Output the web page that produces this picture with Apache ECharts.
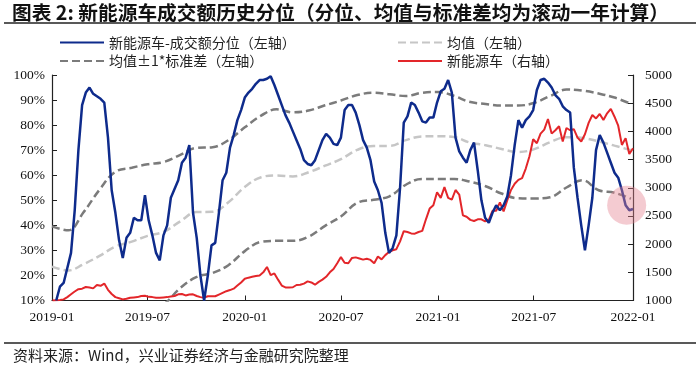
<!DOCTYPE html>
<html><head><meta charset="utf-8">
<script src="https://cdn.jsdelivr.net/npm/echarts@6/dist/echarts.min.js"></script>
<style>html,body{margin:0;padding:0;background:#fff}#c{width:700px;height:370px}</style>
</head><body><div id="c"></div>
<script>
const titleText = '图表 2: 新能源车成交额历史分位（分位、均值与标准差均为滚动一年计算）';
const sourceText = '资料来源：Wind，兴业证券经济与金融研究院整理';
const seriesNames = ['新能源车-成交额分位（左轴）', '均值（左轴）', '均值±1*标准差（左轴）', '新能源车（右轴）'];

// weekly observations starting 2019-01-02
const weeklyStart = [2019, 0, 2];
const blueVals = [null,10,15.5,17,23,29,46,70,88,93,
95,92.5,91.5,90.5,89,75,54,45,34,27,
35,37,43,42,42,52,42,36,29,26,
36,40,51,54.5,58,65,67,72,45,35,
20,10,20,32,33,45,58,61,71,76,
82,86,91,93,94.5,96.5,98,98,98.5,99.5,
96,92,88,84,81,77.5,74,70.5,66,64.5,
64,66,70,74,76.5,75,72.5,72,75,86,
88,88,85,80,74,71,66,57.5,54,49,
37,29,31,36,55,81,83.5,89,88,85,
81.5,81,83,83,89,93.5,94.5,98,93,75,
69.5,67,65,70,73,62,50,43,41,45,
48,46,48,51.5,60,72,82,79,82,83.5,
86,94,98,98.5,97,95,92,90.5,87.5,86,
85,63,51,40,30,40,51,70,76,73,
69,65,61,59,54,48,46,46.5];
const redVals = [1000,1005,1010,1020,1060,1110,1160,1200,1210,1240,
1230,1215,1275,1260,1300,1190,1115,1060,1040,1020,
1030,1050,1055,1060,1080,1085,1065,1060,1050,1050,
1055,1060,1070,1080,1110,1115,1090,1105,1110,1080,
1060,1050,1075,1075,1075,1105,1135,1165,1185,1210,
1265,1320,1385,1405,1420,1435,1445,1500,1595,1450,
1480,1370,1265,1232,1230,1235,1275,1280,1300,1340,
1320,1280,1330,1370,1420,1500,1560,1660,1770,1670,
1660,1755,1765,1745,1725,1740,1720,1660,1780,1730,
1805,1860,1890,1910,2050,2230,2215,2190,2185,2215,
2235,2440,2630,2690,2920,2820,3010,2820,2790,2960,
2880,2510,2485,2430,2410,2440,2440,2405,2430,2590,
2590,2740,2580,2780,2960,3070,3140,3170,3340,3560,
3860,3790,3960,4030,4220,3960,4020,4090,3820,4060,
4020,4040,3890,3820,3950,4150,4290,4230,4310,4200,
4320,4400,4260,4100,3760,3880,3600,3700];

// monthly observations starting 2019-01-01
const monthlyStart = [2019, 0, 1];
const meanVals = [23.5,22,24.4,27.8,31.5,33.5,35.8,37.5,41.6,45.3,45.4,49.2,55.3,59.2,59.9,59.5,61.2,63.8,66.4,70.1,71.7,71.7,74,75.5,75.6,75.2,73.1,72,70.5,69.3,70.3,73.2,75.2,74.9,73.5,71.8,70];
const upperVals = [39.6,38,45,54.2,61.4,63,64.4,65.3,68.1,70.9,71.2,74,79.1,83.8,86.3,85.1,85.8,87.9,89.8,92,92.9,92.3,91.6,92.9,93.2,91.6,89.3,88.4,87.8,87.8,88.8,91.6,94.2,93.8,92.6,91,88.5];
const lowerVals = [7,5,2,0,0,3,5,8.5,15,19.3,21,24.1,29.7,33.4,33.8,33.8,35.5,39.8,43.5,49,50.2,51.6,56.2,58.5,58.5,58.5,57.5,55.6,52.7,50.8,50.7,51.2,55.1,58,54,53,50.6];

const xRange = ['2019-01-01', '2022-01-05'];
const leftAxis = {min: 10, max: 100, interval: 10};
const rightAxis = {min: 1000, max: 5000, interval: 500};
const highlightPoint = ['2021-12-24', 48];

function weeklyDate(i) { return new Date(weeklyStart[0], weeklyStart[1], weeklyStart[2] + 7 * i); }
function monthlyDate(m) { return new Date(monthlyStart[0], monthlyStart[1] + m, monthlyStart[2]); }
const pairW = vals => vals.map((v, i) => [weeklyDate(i), v]);
const pairM = vals => vals.map((v, i) => [monthlyDate(i), v]);

const cjk = '"Noto Sans CJK SC", sans-serif';
const serif = '"Liberation Serif", "DejaVu Serif", serif';
const fmtDate = v => { const d = new Date(v); return d.getFullYear() + '-' + String(d.getMonth() + 1).padStart(2, '0'); };

const legendBase = {itemWidth: 44, itemHeight: 14, itemGap: 10, padding: 0, selectedMode: false,
  itemStyle: {opacity: 0},
  textStyle: {fontFamily: cjk, fontSize: 14, color: '#222'}};

const chart = echarts.init(document.getElementById('c'), null, {renderer: 'canvas'});
chart.setOption({
  animation: false,
  backgroundColor: '#fff',
  grid: {left: 52, right: 67, top: 75, bottom: 69.5, containLabel: false},
  legend: [
    Object.assign({}, legendBase, {data: [seriesNames[0]], left: 59, top: 35.5}),
    Object.assign({}, legendBase, {data: [seriesNames[1]], left: 397, top: 35.5}),
    Object.assign({}, legendBase, {data: [seriesNames[2]], left: 59, top: 54}),
    Object.assign({}, legendBase, {data: [seriesNames[3]], left: 397, top: 54})
  ],
  graphic: [
    {type: 'text', left: 12, top: 3, style: {text: titleText, font: 'bold 19.7px ' + cjk, fill: '#111'}},
    {type: 'line', shape: {x1: 4, y1: 23, x2: 696, y2: 23}, style: {stroke: '#222', lineWidth: 1.5}},
    {type: 'line', shape: {x1: 4, y1: 343, x2: 696, y2: 343}, style: {stroke: '#222', lineWidth: 1.5}},
    {type: 'text', left: 13, top: 348, style: {text: sourceText, font: '15px ' + cjk, fill: '#222'}}
  ],
  xAxis: {
    type: 'time', min: xRange[0], max: xRange[1], splitNumber: 6,
    minInterval: 175 * 86400000, maxInterval: 190 * 86400000,
    axisLine: {show: true, lineStyle: {color: '#222', width: 1.2}},
    axisTick: {show: true, inside: true, length: 5, lineStyle: {color: '#222'}},
    splitLine: {show: false},
    axisLabel: {formatter: fmtDate, fontFamily: serif, fontSize: 13.5, color: '#111', margin: 10,
      showMinLabel: true, showMaxLabel: true}
  },
  yAxis: [
    {type: 'value', min: leftAxis.min, max: leftAxis.max, interval: leftAxis.interval, position: 'left',
      axisLine: {show: true, lineStyle: {color: '#222', width: 1.2}},
      axisTick: {show: true, inside: true, length: 5, lineStyle: {color: '#222'}},
      splitLine: {show: false},
      axisLabel: {formatter: v => v + '%', fontFamily: serif, fontSize: 13.5, color: '#111', margin: 7}},
    {type: 'value', min: rightAxis.min, max: rightAxis.max, interval: rightAxis.interval, position: 'right',
      axisLine: {show: true, lineStyle: {color: '#222', width: 1.2}},
      axisTick: {show: true, inside: true, length: 5, lineStyle: {color: '#222'}},
      splitLine: {show: false},
      axisLabel: {formatter: v => String(v), fontFamily: serif, fontSize: 13.5, color: '#111', margin: 12}}
  ],
  series: [
    {name: seriesNames[2], type: 'line', yAxisIndex: 0, data: pairM(upperVals), smooth: 0.4, showSymbol: false, symbol: 'none',
      lineStyle: {color: '#7b7b7b', width: 2.5, type: [8, 4]}, itemStyle: {color: '#7b7b7b'}, z: 2},
    {name: seriesNames[2], type: 'line', yAxisIndex: 0, data: pairM(lowerVals), smooth: 0.4, showSymbol: false, symbol: 'none',
      lineStyle: {color: '#7b7b7b', width: 2.5, type: [8, 4]}, itemStyle: {color: '#7b7b7b'}, z: 2},
    {name: seriesNames[1], type: 'line', yAxisIndex: 0, data: pairM(meanVals), smooth: 0.4, showSymbol: false, symbol: 'none',
      lineStyle: {color: '#c6c6c6', width: 2.5, type: [8, 4]}, itemStyle: {color: '#c6c6c6'}, z: 2},
    {name: seriesNames[3], type: 'line', yAxisIndex: 1, data: pairW(redVals), showSymbol: false, symbol: 'none',
      lineStyle: {color: '#e3262a', width: 2}, itemStyle: {color: '#e3262a'}, z: 3},
    {name: seriesNames[0], type: 'line', yAxisIndex: 0, data: pairW(blueVals), showSymbol: false, symbol: 'none',
      lineStyle: {color: '#0e2b8c', width: 2.5}, itemStyle: {color: '#0e2b8c'}, z: 4,
      markPoint: {silent: true, symbol: 'circle', symbolSize: 39, label: {show: false},
        itemStyle: {color: 'rgba(228,130,145,0.42)'},
        data: [{coord: highlightPoint}]}}
  ]
});
</script></body></html>
